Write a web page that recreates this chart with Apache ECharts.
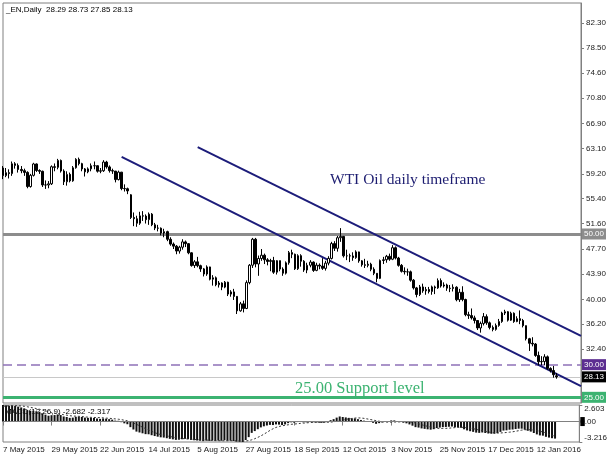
<!DOCTYPE html>
<html><head><meta charset="utf-8">
<script src="https://cdn.jsdelivr.net/npm/echarts@6/dist/echarts.min.js"></script>
<style>html,body{margin:0;padding:0;background:#fff}#c{width:610px;height:457px}</style>
</head><body><div id="c"></div>
<script>
// ---- data ----
const startDate = '2015-05-07';
const skipDays = ['2015-12-25', '2016-01-01'];
const axisSlots = 191; // trading-day slots shown on the time axis (includes right-hand empty space)

const openPrices = [
60.10,58.94,59.39,59.25,60.75,60.50,59.88,59.69,59.43,57.26,
58.98,60.72,59.72,59.60,57.51,57.51,57.68,60.30,60.20,61.26,
59.64,58.00,59.13,58.14,60.14,61.43,60.77,59.96,59.52,59.97,
60.45,60.45,59.61,59.68,61.01,60.27,59.70,59.63,58.33,59.47,
56.96,56.93,56.00,52.53,52.33,51.65,52.78,52.74,52.20,53.04,
51.41,50.91,50.89,50.15,50.36,49.19,48.45,48.14,47.39,47.98,
48.79,48.52,47.12,45.17,45.74,45.15,44.66,43.87,44.96,43.08,
43.30,42.23,42.50,41.87,42.62,40.80,41.14,40.45,38.24,39.31,
38.60,42.56,45.22,49.20,45.41,46.25,46.75,46.05,45.80,45.94,
44.15,45.92,44.63,44.00,45.59,47.15,46.90,44.68,46.68,45.83,
44.48,45.22,45.70,44.43,45.23,45.09,44.74,45.54,46.26,48.53,
47.81,49.43,49.63,46.66,46.66,46.64,46.38,47.26,45.89,45.29,
45.20,45.38,44.60,43.98,43.20,45.94,46.06,46.59,46.14,47.90,
46.32,45.20,44.29,44.21,44.21,42.93,41.75,40.74,41.90,41.30,
41.50,41.20,41.90,41.75,42.87,42.04,42.20,41.71,41.65,41.85,
39.94,41.08,39.97,37.65,37.51,37.16,36.76,35.62,36.31,37.35,
36.40,35.70,35.40,36.00,36.60,37.90,38.10,36.81,37.87,36.60,
37.04,36.76,35.97,33.97,33.27,33.16,31.41,30.44,30.48,31.20,
29.42,29.10,28.29];

const closePrices = [
58.94,59.39,59.25,60.75,60.50,59.88,59.69,59.43,57.26,58.98,
60.72,59.72,59.60,57.51,57.51,57.68,60.30,60.20,61.26,59.64,
58.00,59.13,58.14,60.14,61.43,60.77,59.96,59.52,59.97,60.45,
60.45,59.61,59.68,61.01,60.27,59.70,59.63,58.33,59.47,56.96,
56.93,56.60,52.53,52.33,51.65,52.78,52.74,52.20,53.04,51.41,
50.91,50.89,50.15,50.36,49.19,48.45,48.14,47.39,47.98,48.79,
48.52,47.12,45.17,45.74,45.15,44.66,43.87,44.96,43.08,43.30,
42.23,42.50,41.87,42.62,40.80,41.14,40.45,38.24,39.31,38.60,
42.56,45.22,49.20,45.41,46.25,46.75,46.05,45.80,45.94,44.15,
45.92,44.63,44.00,45.59,47.15,46.90,44.68,46.68,45.83,44.48,
45.22,45.70,44.43,45.23,45.09,44.74,45.54,46.26,48.53,47.81,
49.43,49.63,46.66,46.66,46.64,46.38,47.26,45.89,45.29,45.20,
45.38,44.60,43.98,43.20,45.94,46.06,46.59,46.14,47.90,46.32,
45.20,44.29,44.21,44.21,42.93,41.75,40.74,41.90,41.30,41.50,
41.20,41.90,41.75,42.87,42.04,42.20,41.71,41.65,41.85,39.94,
41.08,39.97,37.65,37.51,37.16,36.76,35.62,36.31,37.35,36.40,
35.70,35.40,36.00,36.60,37.90,38.10,36.81,37.87,36.60,37.04,
36.76,35.97,33.97,33.27,33.16,31.41,30.44,30.48,31.20,29.42,
29.10,28.46,28.13];

const lowPrices = [
58.40,58.70,58.50,58.90,60.00,59.40,59.30,58.90,57.00,57.10,
58.80,59.50,59.20,57.20,56.90,57.00,57.50,59.60,59.90,59.40,
57.50,57.40,57.90,58.00,60.00,60.50,59.60,58.80,59.30,59.60,
59.90,59.40,59.30,59.50,60.00,59.40,59.20,57.90,58.20,56.70,
56.50,56.10,52.30,51.20,51.10,51.40,52.00,51.60,51.40,51.20,
50.60,50.40,49.80,49.50,48.90,48.20,47.70,46.90,47.00,47.60,
48.00,46.90,45.00,44.80,44.90,44.20,43.50,43.60,42.90,42.10,
42.00,41.80,41.40,41.70,40.50,40.40,39.90,37.75,38.10,38.00,
38.50,42.30,44.80,44.90,43.60,45.90,45.40,45.20,44.30,43.90,
43.80,44.30,43.60,43.80,45.30,46.30,44.50,44.50,45.00,44.20,
44.00,44.90,44.20,44.30,44.60,44.50,44.40,45.20,46.10,47.40,
47.30,48.80,46.40,46.00,45.70,45.90,46.20,45.60,45.00,44.80,
44.90,44.30,43.70,42.60,43.10,45.40,45.60,45.90,46.00,46.10,
45.00,44.10,43.80,43.60,42.70,41.50,40.30,40.50,41.00,40.70,
40.90,40.70,40.80,41.60,41.80,41.80,41.30,41.10,41.20,39.70,
39.60,39.70,37.40,37.00,36.90,36.30,35.30,34.90,36.00,36.10,
35.40,35.10,35.20,35.80,36.40,37.60,36.60,36.70,36.40,36.50,
36.20,35.70,33.70,32.10,32.80,31.20,29.90,29.90,29.90,29.20,
28.80,28.00,27.85];

const highPrices = [
60.40,60.10,59.90,61.10,61.00,60.80,60.40,60.00,59.60,59.20,
60.90,60.80,59.90,59.70,58.20,58.10,60.50,60.80,61.50,61.40,
59.90,59.60,59.40,60.40,61.60,61.70,60.90,60.10,60.20,60.80,
61.10,60.50,60.10,61.30,61.20,60.50,60.00,59.60,59.70,59.50,
57.60,57.10,56.10,53.30,52.80,53.40,53.50,53.00,53.30,53.20,
51.70,51.40,51.00,50.80,50.50,49.50,48.70,48.30,48.20,49.20,
49.00,48.60,47.20,46.00,46.50,45.30,44.80,45.20,45.00,43.70,
43.50,42.80,42.60,42.80,42.70,41.40,41.60,40.50,39.60,39.80,
42.90,45.40,49.40,49.40,46.70,47.70,47.00,46.30,46.20,46.50,
46.00,45.90,44.90,45.80,47.40,47.60,47.00,46.90,46.90,46.00,
45.60,46.00,45.80,45.60,45.50,46.30,45.90,46.60,48.80,48.90,
49.70,50.90,49.70,47.60,47.00,47.20,47.50,47.30,46.00,46.20,
45.90,45.60,44.90,44.00,46.10,46.50,46.80,47.00,48.30,48.10,
46.50,45.40,44.90,44.70,44.40,43.10,41.90,42.20,42.40,41.90,
41.90,42.10,42.10,43.20,43.20,42.60,42.40,42.20,42.30,42.00,
41.60,42.00,40.10,38.10,38.60,37.50,36.80,36.60,37.90,37.70,
36.60,36.00,36.30,37.00,38.10,38.40,38.20,38.10,38.00,37.40,
38.30,37.00,36.00,34.10,34.20,33.30,32.00,31.30,31.60,31.40,
29.60,29.80,28.73];

const macdMain = [
2.60,2.55,2.48,2.50,2.45,2.35,2.22,2.08,1.80,1.68,
1.70,1.62,1.52,1.28,1.08,0.92,1.00,1.02,1.12,1.02,
0.80,0.72,0.58,0.62,0.75,0.78,0.72,0.62,0.58,0.58,
0.56,0.48,0.42,0.48,0.45,0.38,0.30,0.15,0.12,-0.10,
-0.28,-0.42,-0.88,-1.25,-1.58,-1.72,-1.85,-1.98,-2.00,-2.15,
-2.28,-2.38,-2.48,-2.52,-2.62,-2.72,-2.80,-2.88,-2.86,-2.78,
-2.72,-2.76,-2.90,-2.94,-2.98,-3.02,-3.08,-3.00,-3.04,-3.00,
-3.04,-3.00,-3.02,-2.94,-3.02,-3.02,-3.06,-3.16,-3.18,-3.216,
-2.90,-2.45,-1.78,-1.50,-1.20,-0.92,-0.75,-0.62,-0.52,-0.55,
-0.45,-0.48,-0.55,-0.45,-0.25,-0.12,-0.18,-0.08,-0.05,-0.12,
-0.12,-0.08,-0.15,-0.15,-0.16,-0.20,-0.15,-0.05,0.22,0.38,
0.62,0.80,0.72,0.65,0.58,0.50,0.50,0.38,0.25,0.14,
0.06,-0.06,-0.20,-0.36,-0.25,-0.15,-0.02,0.02,0.18,0.18,
0.08,-0.08,-0.18,-0.28,-0.45,-0.65,-0.88,-0.95,-1.08,-1.15,
-1.22,-1.28,-1.20,-1.02,-0.95,-0.88,-0.85,-0.82,-0.78,-0.90,
-0.88,-0.98,-1.22,-1.40,-1.52,-1.62,-1.74,-1.78,-1.72,-1.80,
-1.88,-1.92,-1.92,-1.82,-1.62,-1.42,-1.38,-1.28,-1.25,-1.18,
-1.12,-1.12,-1.28,-1.45,-1.58,-1.80,-2.02,-2.18,-2.22,-2.40,
-2.52,-2.62,-2.682];

const macdSignal = [
2.40,2.45,2.48,2.50,2.50,2.48,2.45,2.40,2.33,2.23,
2.14,2.04,1.94,1.81,1.66,1.52,1.40,1.31,1.25,1.18,
1.08,1.00,0.92,0.87,0.85,0.82,0.79,0.73,0.69,0.66,
0.64,0.63,0.61,0.58,0.54,0.51,0.47,0.42,0.37,0.30,
0.21,0.12,-0.03,-0.22,-0.44,-0.66,-0.88,-1.12,-1.33,-1.54,
-1.74,-1.91,-2.05,-2.15,-2.25,-2.35,-2.44,-2.54,-2.62,-2.67,
-2.71,-2.74,-2.78,-2.82,-2.85,-2.87,-2.89,-2.91,-2.94,-2.97,
-3.00,-3.01,-3.02,-3.02,-3.02,-3.01,-3.02,-3.03,-3.05,-3.07,
-3.06,-2.99,-2.87,-2.70,-2.49,-2.26,-1.99,-1.70,-1.40,-1.14,
-0.92,-0.78,-0.67,-0.59,-0.51,-0.44,-0.39,-0.35,-0.29,-0.25,
-0.21,-0.16,-0.13,-0.12,-0.12,-0.12,-0.13,-0.13,-0.09,-0.04,
0.04,0.15,0.24,0.33,0.42,0.49,0.55,0.57,0.56,0.50,
0.42,0.33,0.24,0.13,0.05,-0.02,-0.07,-0.09,-0.09,-0.07,
-0.06,-0.04,-0.02,-0.03,-0.06,-0.13,-0.23,-0.36,-0.50,-0.63,
-0.76,-0.88,-0.98,-1.05,-1.08,-1.08,-1.07,-1.04,-1.00,-0.96,
-0.92,-0.90,-0.92,-0.97,-1.04,-1.12,-1.23,-1.34,-1.43,-1.53,
-1.63,-1.71,-1.77,-1.80,-1.80,-1.76,-1.72,-1.67,-1.61,-1.53,
-1.44,-1.35,-1.29,-1.28,-1.29,-1.34,-1.42,-1.53,-1.64,-1.78,
-2.00,-2.16,-2.317];

const priceTicks = [32.40,36.20,40.00,43.90,47.70,51.60,55.40,59.20,63.10,66.90,70.80,74.60,78.50,82.30];
const macdTicks = [-3.216, 2.603];
const levels = { resistance: 50.00, psych: 30.00, last: 28.13, support: 25.00 };
// channel lines: [ [startIndex, startPrice], [endIndex, endPrice] ]
const channelLower = [[39, 61.8], [190, 26.7]];
const channelUpper = [[64, 63.3], [190, 34.4]];

// ---- build ----
function tradingDays(start, count, skip) {
  const out = []; const d = new Date(start + 'T00:00:00Z');
  while (out.length < count) {
    const wd = d.getUTCDay(); const s = d.toISOString().slice(0, 10);
    if (wd !== 0 && wd !== 6 && skip.indexOf(s) < 0) out.push(s);
    d.setUTCDate(d.getUTCDate() + 1);
  }
  return out;
}
const categories = tradingDays(startDate, axisSlots, skipDays);
const candles = closePrices.map((c, i) => [openPrices[i], c, lowPrices[i], highPrices[i]]);
const MON = ['Jan','Feb','Mar','Apr','May','Jun','Jul','Aug','Sep','Oct','Nov','Dec'];
function fmtDate(s) {
  if (!s) return '';
  const p = String(s).split('-');
  if (p.length !== 3) return '';
  return (+p[2]) + ' ' + MON[+p[1] - 1] + ' ' + p[0];
}
const AX = '#808080';
const FONT = 'Liberation Sans';

function levelLine(v, color, width, type, boxColor) {
  return {
    yAxis: v,
    lineStyle: { color: color, width: width, type: type },
    label: {
      show: true, position: 'end', distance: 1, formatter: v.toFixed(2),
      backgroundColor: boxColor, color: '#fff', fontSize: 8, fontFamily: FONT,
      padding: [2, 2, 1, 2]
    }
  };
}
const trendStyle = { color: '#1c1c7a', width: 2, type: 'solid' };

const chart = echarts.init(document.getElementById('c'), null, { renderer: 'canvas' });
chart.setOption({
  animation: false,
  backgroundColor: '#ffffff',
  textStyle: { fontFamily: FONT },
  grid: [
    { left: 3, right: 29, top: 3, height: 400, show: true, borderColor: AX, borderWidth: 1, backgroundColor: 'transparent' },
    { left: 3, right: 29, top: 405, height: 37, show: true, borderColor: AX, borderWidth: 1, backgroundColor: 'transparent' }
  ],
  xAxis: [
    { type: 'category', gridIndex: 0, data: categories, boundaryGap: false,
      axisLine: { show: false }, axisTick: { show: false }, axisLabel: { show: false }, splitLine: { show: false } },
    { type: 'category', gridIndex: 1, data: categories, boundaryGap: false,
      axisLine: { show: false },
      axisTick: { show: true, interval: 15, length: 4, lineStyle: { color: AX } },
      axisLabel: { show: true, interval: 15, align: 'left', margin: 4, fontSize: 8, color: '#1a1a1a', fontFamily: FONT,
        formatter: fmtDate },
      splitLine: { show: false } }
  ],
  yAxis: [
    { type: 'value', gridIndex: 0, position: 'right', min: 24.13, max: 85.36,
      axisLine: { show: true, lineStyle: { color: AX } },
      axisTick: { show: true, length: 3, customValues: priceTicks, lineStyle: { color: AX } },
      axisLabel: { show: true, customValues: priceTicks, margin: 5, fontSize: 8, color: '#1a1a1a', fontFamily: FONT,
        formatter: v => v.toFixed(2) },
      splitLine: { show: false } },
    { type: 'value', gridIndex: 1, position: 'right', min: -3.216, max: 2.603,
      axisLine: { show: true, lineStyle: { color: AX } },
      axisTick: { show: true, length: 3, customValues: macdTicks, lineStyle: { color: AX } },
      axisLabel: { show: true, customValues: macdTicks, margin: 5, fontSize: 8, color: '#1a1a1a', fontFamily: FONT,
        verticalAlignMinLabel: 'bottom', verticalAlignMaxLabel: 'top',
        formatter: v => v.toFixed(3) },
      splitLine: { show: false } }
  ],
  graphic: [
    { type: 'text', left: 6, top: 6, z: 0, style: { text: '_EN,Daily  28.29 28.73 27.85 28.13', font: '8px "Liberation Sans"', fill: '#000' } },
    { type: 'text', left: 5, top: 408, z: 0, style: { text: 'MACD(12,26,9) -2.682 -2.317', font: '8px "Liberation Sans"', fill: '#000' } },
    { type: 'text', left: 330, top: 172, z: 0, style: { text: 'WTI Oil daily timeframe', font: '15.5px "Liberation Serif"', fill: '#1c1c70' } },
    { type: 'text', left: 295, top: 380, z: 0, style: { text: '25.00 Support level', font: '16.5px "Liberation Serif"', fill: '#3cb371' } }
  ],
  series: [
    {
      type: 'candlestick', xAxisIndex: 0, yAxisIndex: 0, data: candles, barWidth: 2, clip: false, z: 3,
      itemStyle: { color: '#ffffff', color0: '#000000', borderColor: '#000000', borderColor0: '#000000', borderWidth: 1 },
      markLine: {
        silent: true, symbol: ['none', 'none'], animation: false, z: 2,
        data: [
          levelLine(levels.resistance, '#8c8c8c', 3, 'solid', '#8c8c8c'),
          levelLine(levels.psych, '#8f72b8', 1.5, [9, 5], '#5c2e91'),
          levelLine(levels.last, '#c8c8c8', 1, 'solid', '#000000'),
          levelLine(levels.support, '#3cb371', 3, 'solid', '#3cb371'),
          [ { coord: channelLower[0], lineStyle: trendStyle, label: { show: false } }, { coord: channelLower[1] } ],
          [ { coord: channelUpper[0], lineStyle: trendStyle, label: { show: false } }, { coord: channelUpper[1] } ]
        ]
      }
    },
    {
      type: 'bar', xAxisIndex: 1, yAxisIndex: 1, data: macdMain, barWidth: 2, z: 3,
      itemStyle: { color: '#111111' }, clip: false,
      markLine: {
        silent: true, symbol: ['none', 'none'], animation: false,
        data: [{
          yAxis: 0, lineStyle: { color: '#808080', width: 1, type: 'solid' },
          label: { show: true, position: 'end', distance: 1, formatter: '{b|0}.00', fontSize: 8, color: '#1a1a1a', fontFamily: FONT,
            rich: { b: { backgroundColor: '#000', color: '#000', fontSize: 8, padding: [1, 0, 0, 0] } } }
        }]
      }
    },
    {
      type: 'line', xAxisIndex: 1, yAxisIndex: 1, data: macdSignal, symbol: 'none', z: 4,
      lineStyle: { color: '#333333', width: 1, type: [2, 2] }
    }
  ]
});
</script>
</body></html>
